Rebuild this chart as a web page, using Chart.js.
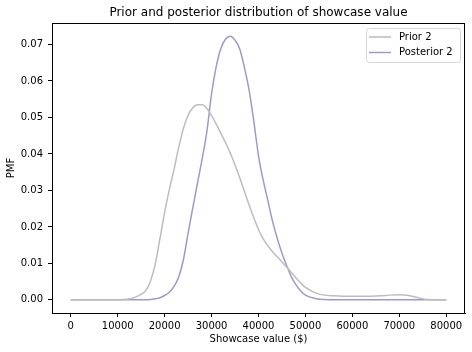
<!DOCTYPE html>
<html>
<head>
<meta charset="utf-8">
<script src="https://cdn.jsdelivr.net/npm/chart.js@4"></script>
<style>
  html, body { margin: 0; padding: 0; background: #fff; }
  #wrap { width: 472px; height: 352px; }
</style>
</head>
<body>
<div id="wrap"><canvas id="pmfChart" width="472" height="352"></canvas></div>
<script>
var showcaseValues = [0, 2000, 4000, 6000, 8000, 10000,
    11000, 12000, 13000, 14000, 15000, 16000, 17000, 18000, 19000, 20000,
    21000, 22000, 23000, 24000, 25000, 26000, 27000, 28000, 29000, 30000,
    31000, 32000, 33000, 34000, 35000, 36000, 37000, 38000, 39000, 40000,
    41000, 42000, 43000, 44000, 45000, 46000, 47000, 48000, 49000, 50000,
    52000, 54000, 56000, 58000, 60000, 62000, 64000, 66000, 68000, 70000,
    72000, 74000, 76000, 78000, 80000]

var prior2 = [0, 0, 0, 0, 0, 0,
    0.0001, 0.0002, 0.0004, 0.0009, 0.0015, 0.0026, 0.0052, 0.0098, 0.0168, 0.024,
    0.0302, 0.0358, 0.0418, 0.047, 0.0506, 0.0527, 0.0535, 0.0535, 0.0525, 0.0505,
    0.0482, 0.0456, 0.043, 0.0402, 0.037, 0.0335, 0.0298, 0.026, 0.0225, 0.0193,
    0.0167, 0.0148, 0.0132, 0.0118, 0.0104, 0.009, 0.0075, 0.006, 0.0046, 0.0034,
    0.002, 0.0013, 0.0011, 0.001, 0.001, 0.001, 0.001, 0.0011, 0.0013, 0.0014,
    0.0012, 0.0006, 0.0001, 0, 0]

var posterior2 = [0, 0, 0, 0, 0, 0,
    0, 0, 0, 0, 0, 0, 0.0001, 0.0003, 0.0006, 0.0012,
    0.0021, 0.0037, 0.0063, 0.011, 0.0183, 0.0252, 0.032, 0.0387, 0.0462, 0.0565,
    0.064, 0.069, 0.0715, 0.0723, 0.0712, 0.0688, 0.0637, 0.0575, 0.049, 0.0395,
    0.0328, 0.0272, 0.0215, 0.0168, 0.0128, 0.0094, 0.0063, 0.0041, 0.0024, 0.0013,
    0.0004, 0.0001, 0, 0, 0, 0, 0, 0, 0, 0,
    0, 0, 0, 0, 0]

var xTicks = [0, 10000, 20000, 30000, 40000, 50000, 60000, 70000, 80000]
var yTicks = [0, 0.01, 0.02, 0.03, 0.04, 0.05, 0.06, 0.07]

var seriesNames = ['Prior 2', 'Posterior 2']
var seriesColors = ['#bdbdbd', '#9e9ac8']

function toPoints(values) {
    return showcaseValues.map(function(x, i) { return {x: x, y: values[i]} })
}

var FONT = 'DejaVu Sans, sans-serif'

// frame, title and legend drawn the matplotlib way
var mplDecor = {
    id: 'mplDecor',
    afterDraw: function(chart) {
        var ctx = chart.ctx
        var a = chart.chartArea
        ctx.save()
        ctx.strokeStyle = '#000'
        ctx.lineWidth = 1
        ctx.strokeRect(Math.round(a.left) + 0.5, Math.round(a.top) + 0.5,
            Math.round(a.right - a.left) - 1, Math.round(a.bottom - a.top))

        ctx.fillStyle = '#000'
        ctx.font = '12px ' + FONT
        ctx.textAlign = 'center'
        ctx.textBaseline = 'middle'
        ctx.fillText('Prior and posterior distribution of showcase value', (a.left + a.right) / 2, 13)

        // legend
        var bx = a.right - 99, by = a.top + 5, bw = 94, bh = 34
        ctx.beginPath()
        ctx.strokeStyle = '#d6d6d6'
        ctx.fillStyle = 'rgba(255,255,255,0.8)'
        ctx.roundRect(bx + 0.5, by + 0.5, bw, bh, 3)
        ctx.fill()
        ctx.stroke()
        ctx.font = '10px ' + FONT
        ctx.textAlign = 'left'
        chart.data.datasets.forEach(function(ds, i) {
            var yy = by + 9 + i * 15.5
            ctx.beginPath()
            ctx.strokeStyle = ds.borderColor
            ctx.lineWidth = 1.5
            ctx.moveTo(bx + 3, yy)
            ctx.lineTo(bx + 25, yy)
            ctx.stroke()
            ctx.fillStyle = '#000'
            ctx.fillText(ds.label, bx + 33, yy)
        })
        ctx.restore()
    }
}

var canvasElement = document.getElementById('pmfChart')
var configure = {
    type: 'line',
    data: {
        datasets: [{
            label: seriesNames[0],
            data: toPoints(prior2),
            borderColor: seriesColors[0],
            borderWidth: 1.5,
            pointRadius: 0,
            cubicInterpolationMode: 'monotone',
            fill: false
        }, {
            label: seriesNames[1],
            data: toPoints(posterior2),
            borderColor: seriesColors[1],
            borderWidth: 1.5,
            pointRadius: 0,
            cubicInterpolationMode: 'monotone',
            fill: false
        }]
    },
    options: {
        responsive: false,
        animation: false,
        layout: { padding: { top: 23, right: 7, left: 0, bottom: 0 } },
        plugins: {
            legend: { display: false },
            title: { display: false },
            tooltip: { enabled: false }
        },
        scales: {
            x: {
                type: 'linear',
                min: -4000,
                max: 84000,
                afterBuildTicks: function(scale) {
                    scale.ticks = xTicks.map(function(v) { return {value: v} })
                },
                afterFit: function(scale) { scale.height = 39 },
                ticks: {
                    color: '#000',
                    font: { family: FONT, size: 10 },
                    padding: 3,
                    maxRotation: 0,
                    autoSkip: false,
                    callback: function(v) { return String(v) }
                },
                grid: { drawOnChartArea: false, tickLength: 4, tickColor: '#000' },
                border: { color: '#000' },
                title: {
                    display: true,
                    text: 'Showcase value ($)',
                    color: '#000',
                    font: { family: FONT, size: 10 },
                    padding: { top: 0, bottom: 7 }
                }
            },
            y: {
                type: 'linear',
                min: -0.0036,
                max: 0.0759,
                afterBuildTicks: function(scale) {
                    scale.ticks = yTicks.map(function(v) { return {value: v} })
                },
                afterFit: function(scale) { scale.width = 52 },
                ticks: {
                    color: '#000',
                    font: { family: FONT, size: 10 },
                    padding: 5,
                    callback: function(v) { return v.toFixed(2) }
                },
                grid: { drawOnChartArea: false, tickLength: 4, tickColor: '#000' },
                border: { color: '#000' },
                title: {
                    display: true,
                    text: 'PMF',
                    color: '#000',
                    font: { family: FONT, size: 10 },
                    padding: { top: 5, bottom: 0 }
                }
            }
        }
    },
    plugins: [mplDecor]
}

var reportChart = new Chart(canvasElement, configure)
</script>
</body>
</html>
